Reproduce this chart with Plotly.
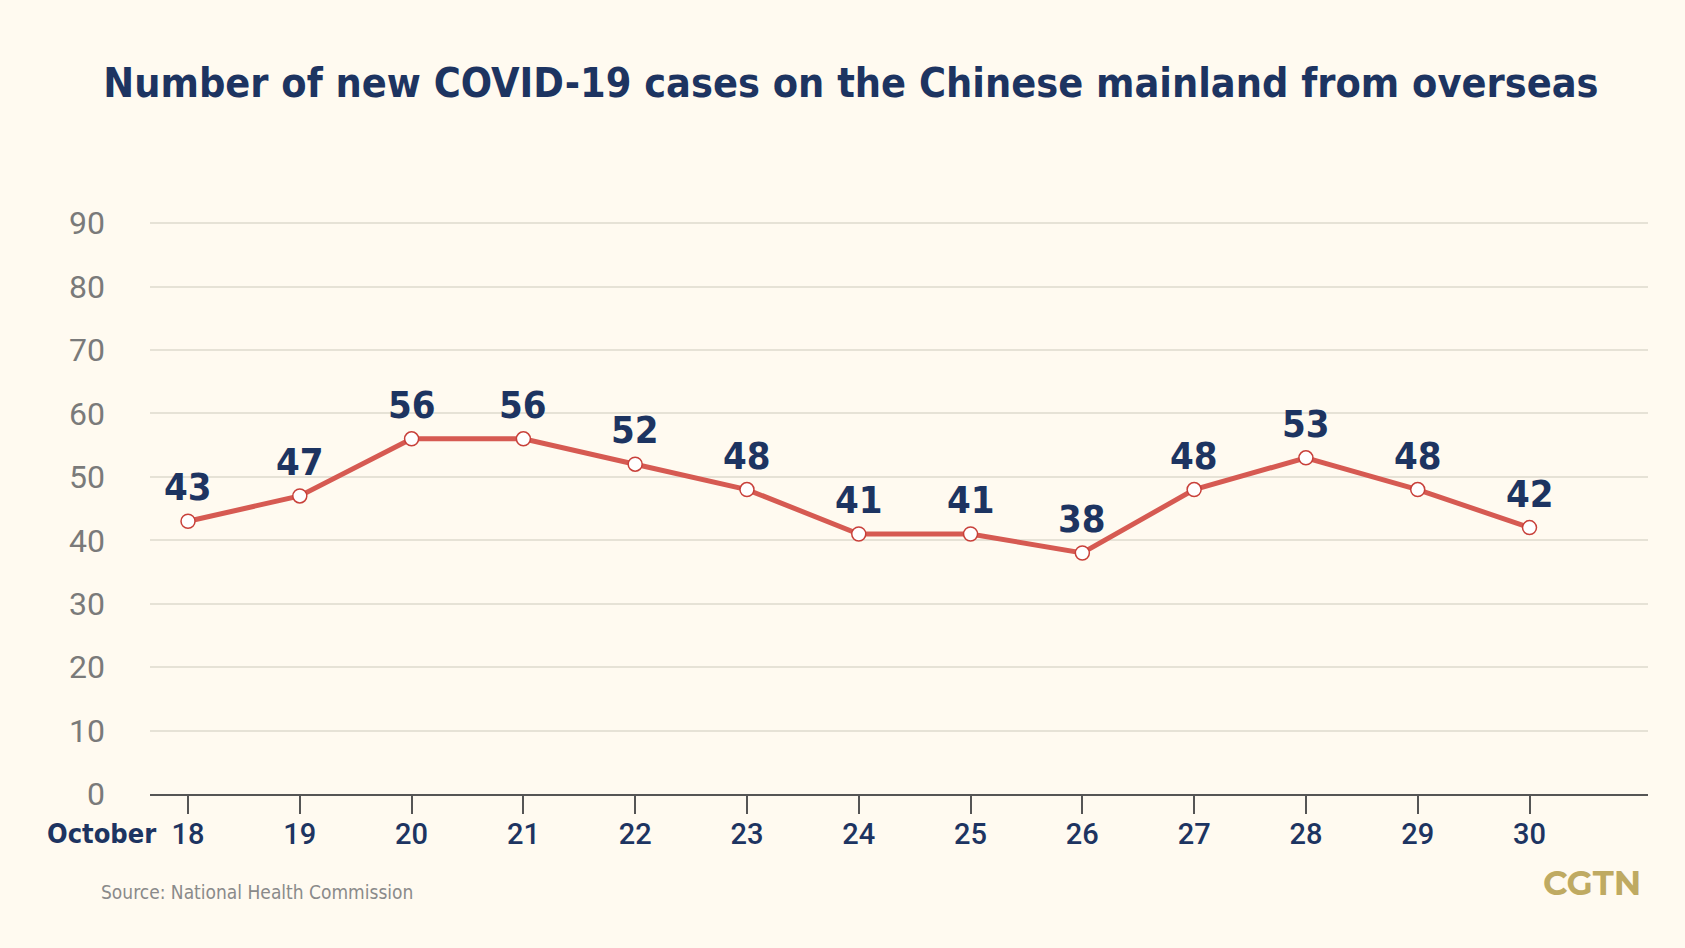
import plotly.graph_objects as go

days = ["18", "19", "20", "21", "22", "23", "24", "25", "26", "27", "28", "29", "30"]
cases = [43, 47, 56, 56, 52, 48, 41, 41, 38, 48, 53, 48, 42]
y_ticks = [0, 10, 20, 30, 40, 50, 60, 70, 80, 90]

NAVY = "#1d3461"
RED = "#d65a52"
BG = "#fffaf0"
COND = "DejaVu Sans Condensed, Liberation Sans Narrow, DejaVu Sans, sans-serif"

x_idx = list(range(len(days)))

W, H = 1685, 948
plot_l, plot_r, plot_t, plot_b = 150, 1648, 220, 794

fig = go.Figure()
fig.add_trace(go.Scatter(
    x=x_idx, y=cases, mode="lines+markers",
    line=dict(color=RED, width=5),
    marker=dict(size=14, color="white", line=dict(color="#c8403a", width=1.5)),
    hoverinfo="skip", showlegend=False,
))


def px_to_paper(px, py):
    return (px - plot_l) / (plot_r - plot_l), (plot_b - py) / (plot_b - plot_t)


annotations = []
for xi, v in zip(x_idx, cases):
    annotations.append(dict(
        x=xi, y=v, xref="x", yref="y", text=f"<b>{v}</b>", showarrow=False,
        yanchor="bottom", yshift=10,
        font=dict(family=COND, size=38, color=NAVY),
    ))

ox, oy = px_to_paper(158, 833)
annotations.append(dict(x=ox, y=oy, xref="paper", yref="paper", text="<b>October</b>",
                        showarrow=False, xanchor="right", yanchor="middle",
                        font=dict(family=COND, size=27, color=NAVY)))
sx, sy = px_to_paper(99, 892)
annotations.append(dict(x=sx, y=sy, xref="paper", yref="paper",
                        text="Source: National Health Commission", showarrow=False,
                        xanchor="left", yanchor="middle",
                        font=dict(family=COND, size=19, color="#8a8a8a")))
cx, cy = px_to_paper(1643, 883)
annotations.append(dict(x=cx, y=cy, xref="paper", yref="paper",
                        text="<b>CGTN</b>", showarrow=False,
                        xanchor="right", yanchor="middle",
                        font=dict(family="Montserrat, Lato, Roboto, sans-serif", size=34, color="#bfaa62")))

fig.update_layout(
    width=W, height=H,
    paper_bgcolor=BG, plot_bgcolor=BG,
    margin=dict(l=plot_l, r=W - plot_r, t=plot_t, b=H - plot_b),
    title=dict(
        text="<b>Number of new COVID-19 cases on the Chinese mainland from overseas</b>",
        x=0.505, xanchor="center", y=1 - 83 / H, yanchor="middle",
        font=dict(family=COND, size=41, color=NAVY),
    ),
    xaxis=dict(
        tickmode="array", tickvals=x_idx, ticktext=days,
        range=[-0.34, 13.06],
        showgrid=False, zeroline=False,
        showline=True, linecolor="#555555", linewidth=1.5,
        ticks="outside", ticklen=18, tickwidth=1.5, tickcolor="#555555",
        tickfont=dict(family="Roboto, DejaVu Sans, sans-serif", size=29, color=NAVY, weight=500),
        ticklabelstandoff=-5,
    ),
    yaxis=dict(
        tickmode="array", tickvals=y_ticks,
        range=[0, 90.5],
        showgrid=True, gridcolor="#e6e2d6", gridwidth=1.5,
        zeroline=False, showline=False, ticks="",
        tickfont=dict(family="Roboto, DejaVu Sans, sans-serif", size=32, color="#7a7a7a"),
        ticklabelstandoff=44,
    ),
    annotations=annotations,
)

fig.write_html(
    "out.html",
    config={"displayModeBar": False},
    post_script="document.body.style.margin='0';document.body.style.background='#fffaf0';",
)
